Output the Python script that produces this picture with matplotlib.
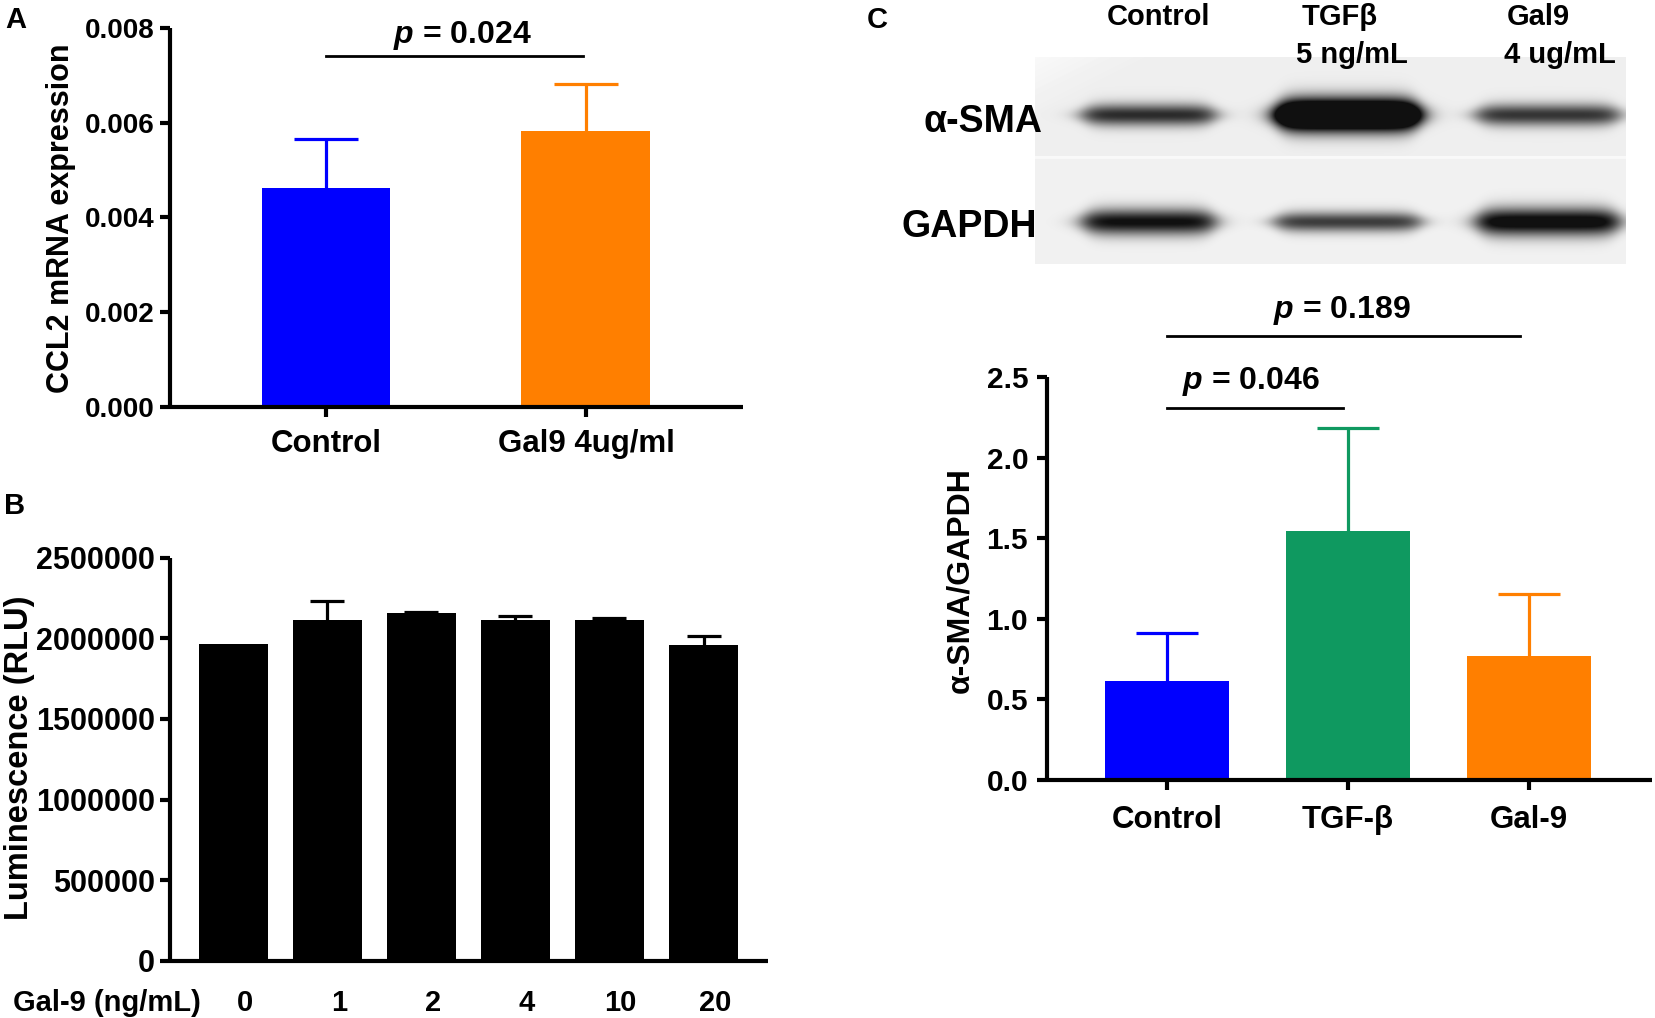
import numpy as np
import matplotlib
matplotlib.use("Agg")
import matplotlib.pyplot as plt
import matplotlib.transforms as mtransforms

# ---------------- data ----------------
a_groups = ["Control", "Gal9 4ug/ml"]
a_means = [0.00462, 0.00582]
a_err = [0.00103, 0.00099]
a_colors = ["#0000FF", "#FF7F00"]
a_pval = "0.024"

b_doses = ["0", "1", "2", "4", "10", "20"]
b_means = [1962000, 2110000, 2155000, 2110000, 2110000, 1957000]
b_err = [0, 119000, 5000, 26000, 15000, 54000]
b_xlabel = "Gal-9 (ng/mL)"

c_groups = ["Control", "TGF-β", "Gal-9"]
c_means = [0.614, 1.548, 0.766]
c_err = [0.300, 0.640, 0.390]
c_colors = ["#0000FF", "#0F9960", "#FF7F00"]
c_pvals = ["0.046", "0.189"]

blot_lanes = ["Control", "TGFβ\n5 ng/mL", "Gal9\n4 ug/mL"]
blot_proteins = ["α-SMA", "GAPDH"]
sma_signal = [0.82, 1.9, 0.78]
gapdh_signal = [0.95, 0.75, 1.05]
sma_thick = [11, 16, 11]
gapdh_thick = [13, 10, 14]

# ---------------- style ----------------
plt.rcParams["font.family"] = ["Liberation Sans", "DejaVu Sans"]
plt.rcParams["font.weight"] = "bold"
plt.rcParams["axes.labelweight"] = "bold"
plt.rcParams["mathtext.fontset"] = "custom"
plt.rcParams["mathtext.it"] = "Liberation Sans:italic:bold"
plt.rcParams["mathtext.rm"] = "Liberation Sans:bold"

W, H = 1655, 1018
fig = plt.figure(figsize=(W / 100, H / 100), dpi=100)


def ax_px(l, t, r, b):
    return fig.add_axes([l / W, 1 - b / H, (r - l) / W, (b - t) / H])


def fx(x):
    return x / W


def fy(y):
    return 1 - y / H


def style_axes(ax):
    for s in ["top", "right"]:
        ax.spines[s].set_visible(False)
    for s in ["left", "bottom"]:
        ax.spines[s].set_linewidth(3)
        ax.spines[s].set_capstyle("butt")
    ax.tick_params(width=3, length=7.5, color="black")


def upper_err(ax, x, m, e, color, capsize):
    """Error bar drawn only above the bar, with a single cap."""
    if e <= 0:
        return
    ax.vlines(x, m, m + e, color=color, lw=2.3, zorder=1)
    ax.plot([x], [m + e], marker="_", ms=2 * capsize, mew=2.3, color=color,
            zorder=1, clip_on=False)


# ---------------- Panel A ----------------
axA = ax_px(170, 27.7, 743, 407)
xa = np.arange(len(a_groups))
axA.bar(xa, a_means, width=0.496, color=a_colors, zorder=2)
for i in range(len(xa)):
    upper_err(axA, xa[i], a_means[i], a_err[i], a_colors[i], 23)
axA.set_xlim(-0.6, 1.604)
axA.set_ylim(0, 0.008)
axA.set_yticks(np.arange(0, 0.0081, 0.002))
axA.set_yticklabels([f"{v:.3f}" for v in np.arange(0, 0.0081, 0.002)])
axA.set_xticks(xa)
axA.set_xticklabels(a_groups)
style_axes(axA)
axA.tick_params(axis="y", labelsize=20, pad=3.5)
axA.tick_params(axis="x", labelsize=22.5, pad=8)
axA.plot([0, 0.99], [0.0074, 0.0074], color="black", lw=2, clip_on=False)
axA.text(0.523, 0.00768, rf"$p$ = {a_pval}", ha="center", va="baseline",
         fontsize=23, clip_on=False)
fig.text(fx(61), fy(218), "CCL2 mRNA expression", rotation=90, ha="center",
         va="center", fontsize=22)
fig.text(fx(16), fy(28), "A", ha="center", va="baseline", fontsize=21)

# ---------------- Panel B ----------------
axB = ax_px(170, 557.5, 768, 961)
xb = np.arange(len(b_doses))
axB.bar(xb, b_means, width=0.73, color="black", zorder=2)
for i in range(len(xb)):
    upper_err(axB, xb[i], b_means[i], b_err[i], "black", 12)
axB.set_xlim(-0.675, 5.686)
axB.set_ylim(0, 2500000)
axB.set_yticks(np.arange(0, 2500001, 500000))
axB.set_yticklabels([f"{int(v)}" for v in np.arange(0, 2500001, 500000)])
axB.set_xticks([])
style_axes(axB)
axB.tick_params(axis="y", labelsize=22, pad=3.5)
trB = mtransforms.blended_transform_factory(axB.transData, axB.transAxes)
for i, lab in enumerate(b_doses):
    axB.text(xb[i] + 0.12, -0.124, lab, transform=trB, ha="center",
             va="baseline", fontsize=21, clip_on=False)
fig.text(fx(107), fy(1011), b_xlabel, ha="center", va="baseline", fontsize=21)
fig.text(fx(20), fy(758), "Luminescence (RLU)", rotation=90, ha="center",
         va="center", fontsize=23.5)
fig.text(fx(15), fy(514), "B", ha="center", va="baseline", fontsize=21)

# ---------------- Panel C: blot ----------------
bl, bt, br, bb = 1035, 57, 1626, 264
axW = ax_px(bl, bt, br, bb)
X, Y = np.meshgrid(np.arange(bl, br) + 0.5, np.arange(bt, bb) + 0.5)
img = np.where(Y < 157, 0.935, 0.945)
img = np.where((Y >= 156) & (Y < 159), 0.975, img)
img = img + 0.04 * np.clip(1 - ((X - bl) / 120 + (Y - bt) / 60), 0, 1)
lane_x = [1149, 1348, 1548]
lane_w = [132, 145, 142]
D = np.zeros_like(img)
for proteins_signal, thick, yc in [(sma_signal, sma_thick, 115),
                                   (gapdh_signal, gapdh_thick, 222)]:
    for i in range(len(blot_lanes)):
        x0 = lane_x[i] - lane_w[i] / 2
        x1 = lane_x[i] + lane_w[i] / 2
        hx = 0.5 * (np.tanh((X - x0) / 13) - np.tanh((X - x1) / 13))
        hh = thick[i] * (0.55 + 0.45 * hx)
        vy = np.exp(-np.abs((Y - yc) / np.maximum(hh, 1)) ** 2.0)
        D += proteins_signal[i] * hx * vy
img = np.clip(img * (1 - np.clip(D, 0, 0.93)), 0, 1)
axW.imshow(img, cmap="gray", vmin=0, vmax=1, extent=(bl, br, bb, bt),
           aspect="auto", interpolation="bilinear")
axW.set_axis_off()

head1_x = [1158, 1340, 1538]
head2_x = [1158, 1352, 1560]
for i, lab in enumerate(blot_lanes):
    lines = lab.split("\n")
    fig.text(fx(head1_x[i]), fy(25), lines[0], ha="center", va="baseline", fontsize=21)
    if len(lines) > 1:
        fig.text(fx(head2_x[i]), fy(63), lines[1], ha="center", va="baseline", fontsize=21)
prot_pos = [(983, 132), (969, 237)]
for lab, (px, py) in zip(blot_proteins, prot_pos):
    fig.text(fx(px), fy(py), lab, ha="center", va="baseline", fontsize=27)
fig.text(fx(877), fy(28), "C", ha="center", va="baseline", fontsize=21)

# ---------------- Panel C: bars ----------------
axC = ax_px(1047, 377.4, 1652, 779.6)
xc = np.arange(len(c_groups))
axC.bar(xc, c_means, width=0.685, color=c_colors, zorder=2)
for i in range(len(xc)):
    upper_err(axC, xc[i], c_means[i], c_err[i], c_colors[i], 22)
axC.set_xlim(-0.663, 2.68)
axC.set_ylim(0, 2.5)
axC.set_yticks(np.arange(0, 2.51, 0.5))
axC.set_yticklabels([f"{v:.1f}" for v in np.arange(0, 2.51, 0.5)])
axC.set_xticks(xc)
axC.set_xticklabels(c_groups)
style_axes(axC)
axC.tick_params(axis="y", labelsize=21.5, pad=6)
axC.tick_params(axis="x", labelsize=22.5, pad=11)
axC.plot([0, 0.97], [2.31, 2.31], color="black", lw=2, clip_on=False)
axC.text(0.464, 2.429, rf"$p$ = {c_pvals[0]}", ha="center", va="baseline",
         fontsize=23, clip_on=False)
axC.plot([0, 1.95], [2.757, 2.757], color="black", lw=2, clip_on=False)
axC.text(0.964, 2.872, rf"$p$ = {c_pvals[1]}", ha="center", va="baseline",
         fontsize=23, clip_on=False)
fig.text(fx(960), fy(580), "α-SMA/GAPDH", rotation=90, ha="center",
         va="center", fontsize=23)

fig.savefig("out.png", dpi=100)
